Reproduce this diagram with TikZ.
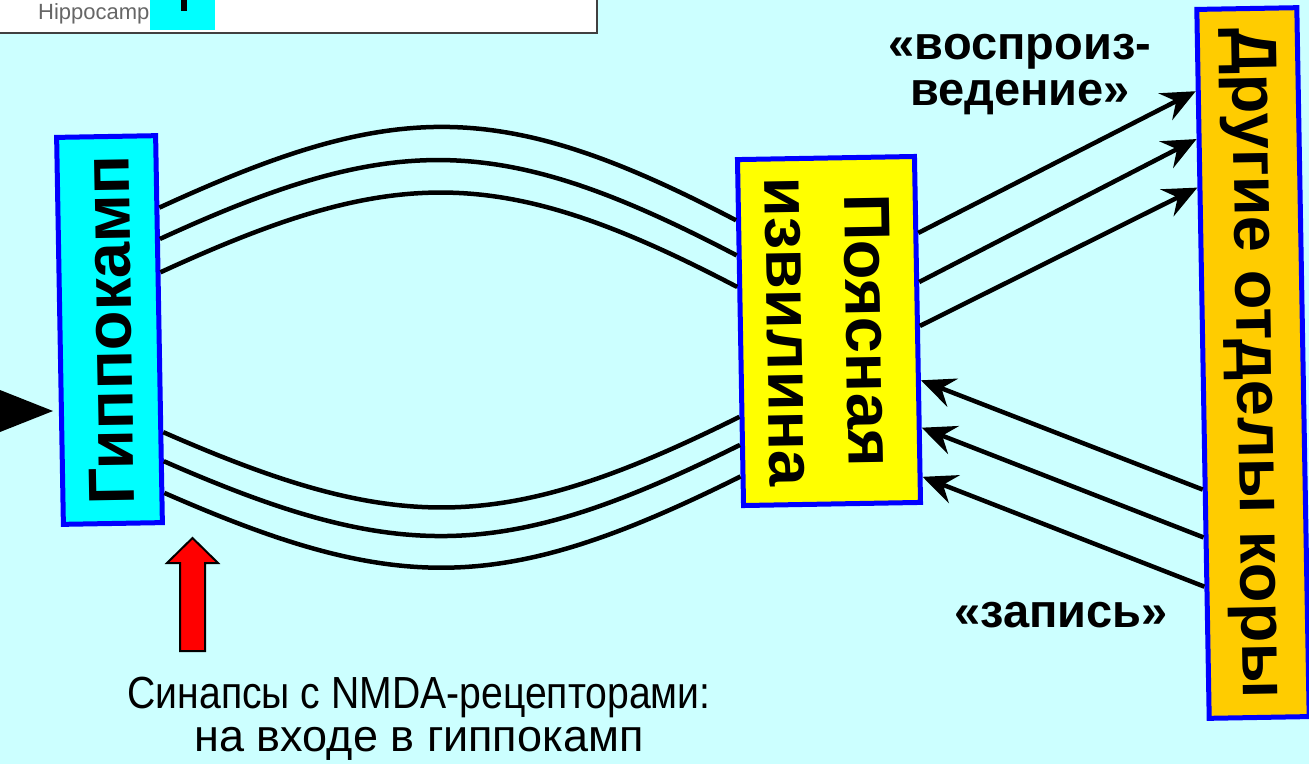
\documentclass[tikz,border=0pt]{standalone}
\usepackage{fontspec}
\usepackage{graphicx}
\setmainfont{Liberation Sans}
\usetikzlibrary{calc,arrows.meta,positioning}

\definecolor{bgcyan}{HTML}{CCFFFF}
\definecolor{hipcyan}{HTML}{00FFFF}
\definecolor{cingyellow}{HTML}{FFFF00}
\definecolor{ctxorange}{HTML}{FFCC00}
\definecolor{boxblue}{HTML}{0000FF}

\tikzset{
	region/.style={draw=boxblue,line width=5pt,inner sep=0pt,align=center,
		font=\fontsize{65}{79}\selectfont\bfseries},
	wire/.style={line width=4.5pt},
	fwd/.style={line width=4.5pt,-{Stealth[length=34pt,width=30pt,inset=12pt]}},
	tag/.style={inner sep=0pt,align=center,font=\fontsize{47}{46}\selectfont\bfseries},
}

\begin{document}
\begin{tikzpicture}[x=1pt,y=1pt]
		\useasboundingbox (0,0) rectangle (1309,-764);
		\fill[bgcyan] (0,0) rectangle (1309,-764);
		\fill[white] (0,0) rectangle (597,-33);
		\draw[line width=2.5pt,black!75] (0,-33) -- (597,-33) -- (597,0);
		\node[anchor=base west,inner sep=0pt,text=black!60,font=\fontsize{22}{22}\selectfont] (thumb) at (38,-19) {Hippocamp};
		\fill[hipcyan] (150,0) rectangle (215,-30);
		\fill[black] (181,0) rectangle (187,-11);
		\fill[black] (0,-390) -- (53,-411) -- (0,-432) -- cycle;
		\node[region,fill=hipcyan,minimum width=387pt,minimum height=99pt,rotate=91] (hip) at (109.5,-330) {Гиппокамп};
		\node[region,fill=cingyellow,minimum width=346pt,minimum height=177pt,rotate=-89] (cing) at (829,-331) {Поясная\\извилина};
		\node[region,fill=ctxorange,minimum width=709pt,minimum height=100pt,rotate=-89] (ctx) at (1253,-363) {Другие отделы коры};
		\foreach \a/\b in {0.19/0.18,0.27/0.28,0.355/0.37}
			\draw[wire] ($(hip.south east)!\a!(hip.south west)$) .. controls +(235,108) and +(-237,124) .. ($(cing.south west)!\b!(cing.south east)$);
		\foreach \a/\b in {0.763/0.74,0.837/0.82,0.918/0.91}
			\draw[wire] ($(hip.south east)!\a!(hip.south west)$) .. controls +(235,-103) and +(-237,-118) .. ($(cing.south west)!\b!(cing.south east)$);
		\foreach \a/\b in {0.225/0.118,0.365/0.185,0.49/0.253}
			\draw[fwd] ($(cing.north west)!\a!(cing.north east)$) -- ($(ctx.south west)!\b!(ctx.south east)$);
		\foreach \a/\b in {0.676/0.645,0.743/0.78,0.812/0.92}
			\draw[fwd] ($(ctx.south west)!\a!(ctx.south east)$) -- ($(cing.north west)!\b!(cing.north east)$);
		\node[tag] (replay) at (1020,-74) {«воспроиз-\\ведение»};
		\node[tag] (record) at (1061,-615) {«запись»};
		\filldraw[fill=red,draw=black,line width=2pt] (180,-651) -- (180,-563) -- (167,-563) -- (192.5,-538) -- (218,-563) -- (205,-563) -- (205,-651) -- cycle;
		\node[inner sep=0pt,align=center,font=\fontsize{45}{43}\selectfont] (synapse) at (419,-719) {\scalebox{0.87}[1]{Синапсы с NMDA-рецепторами:}\\на входе в гиппокамп};
	\end{tikzpicture}
\end{document}
